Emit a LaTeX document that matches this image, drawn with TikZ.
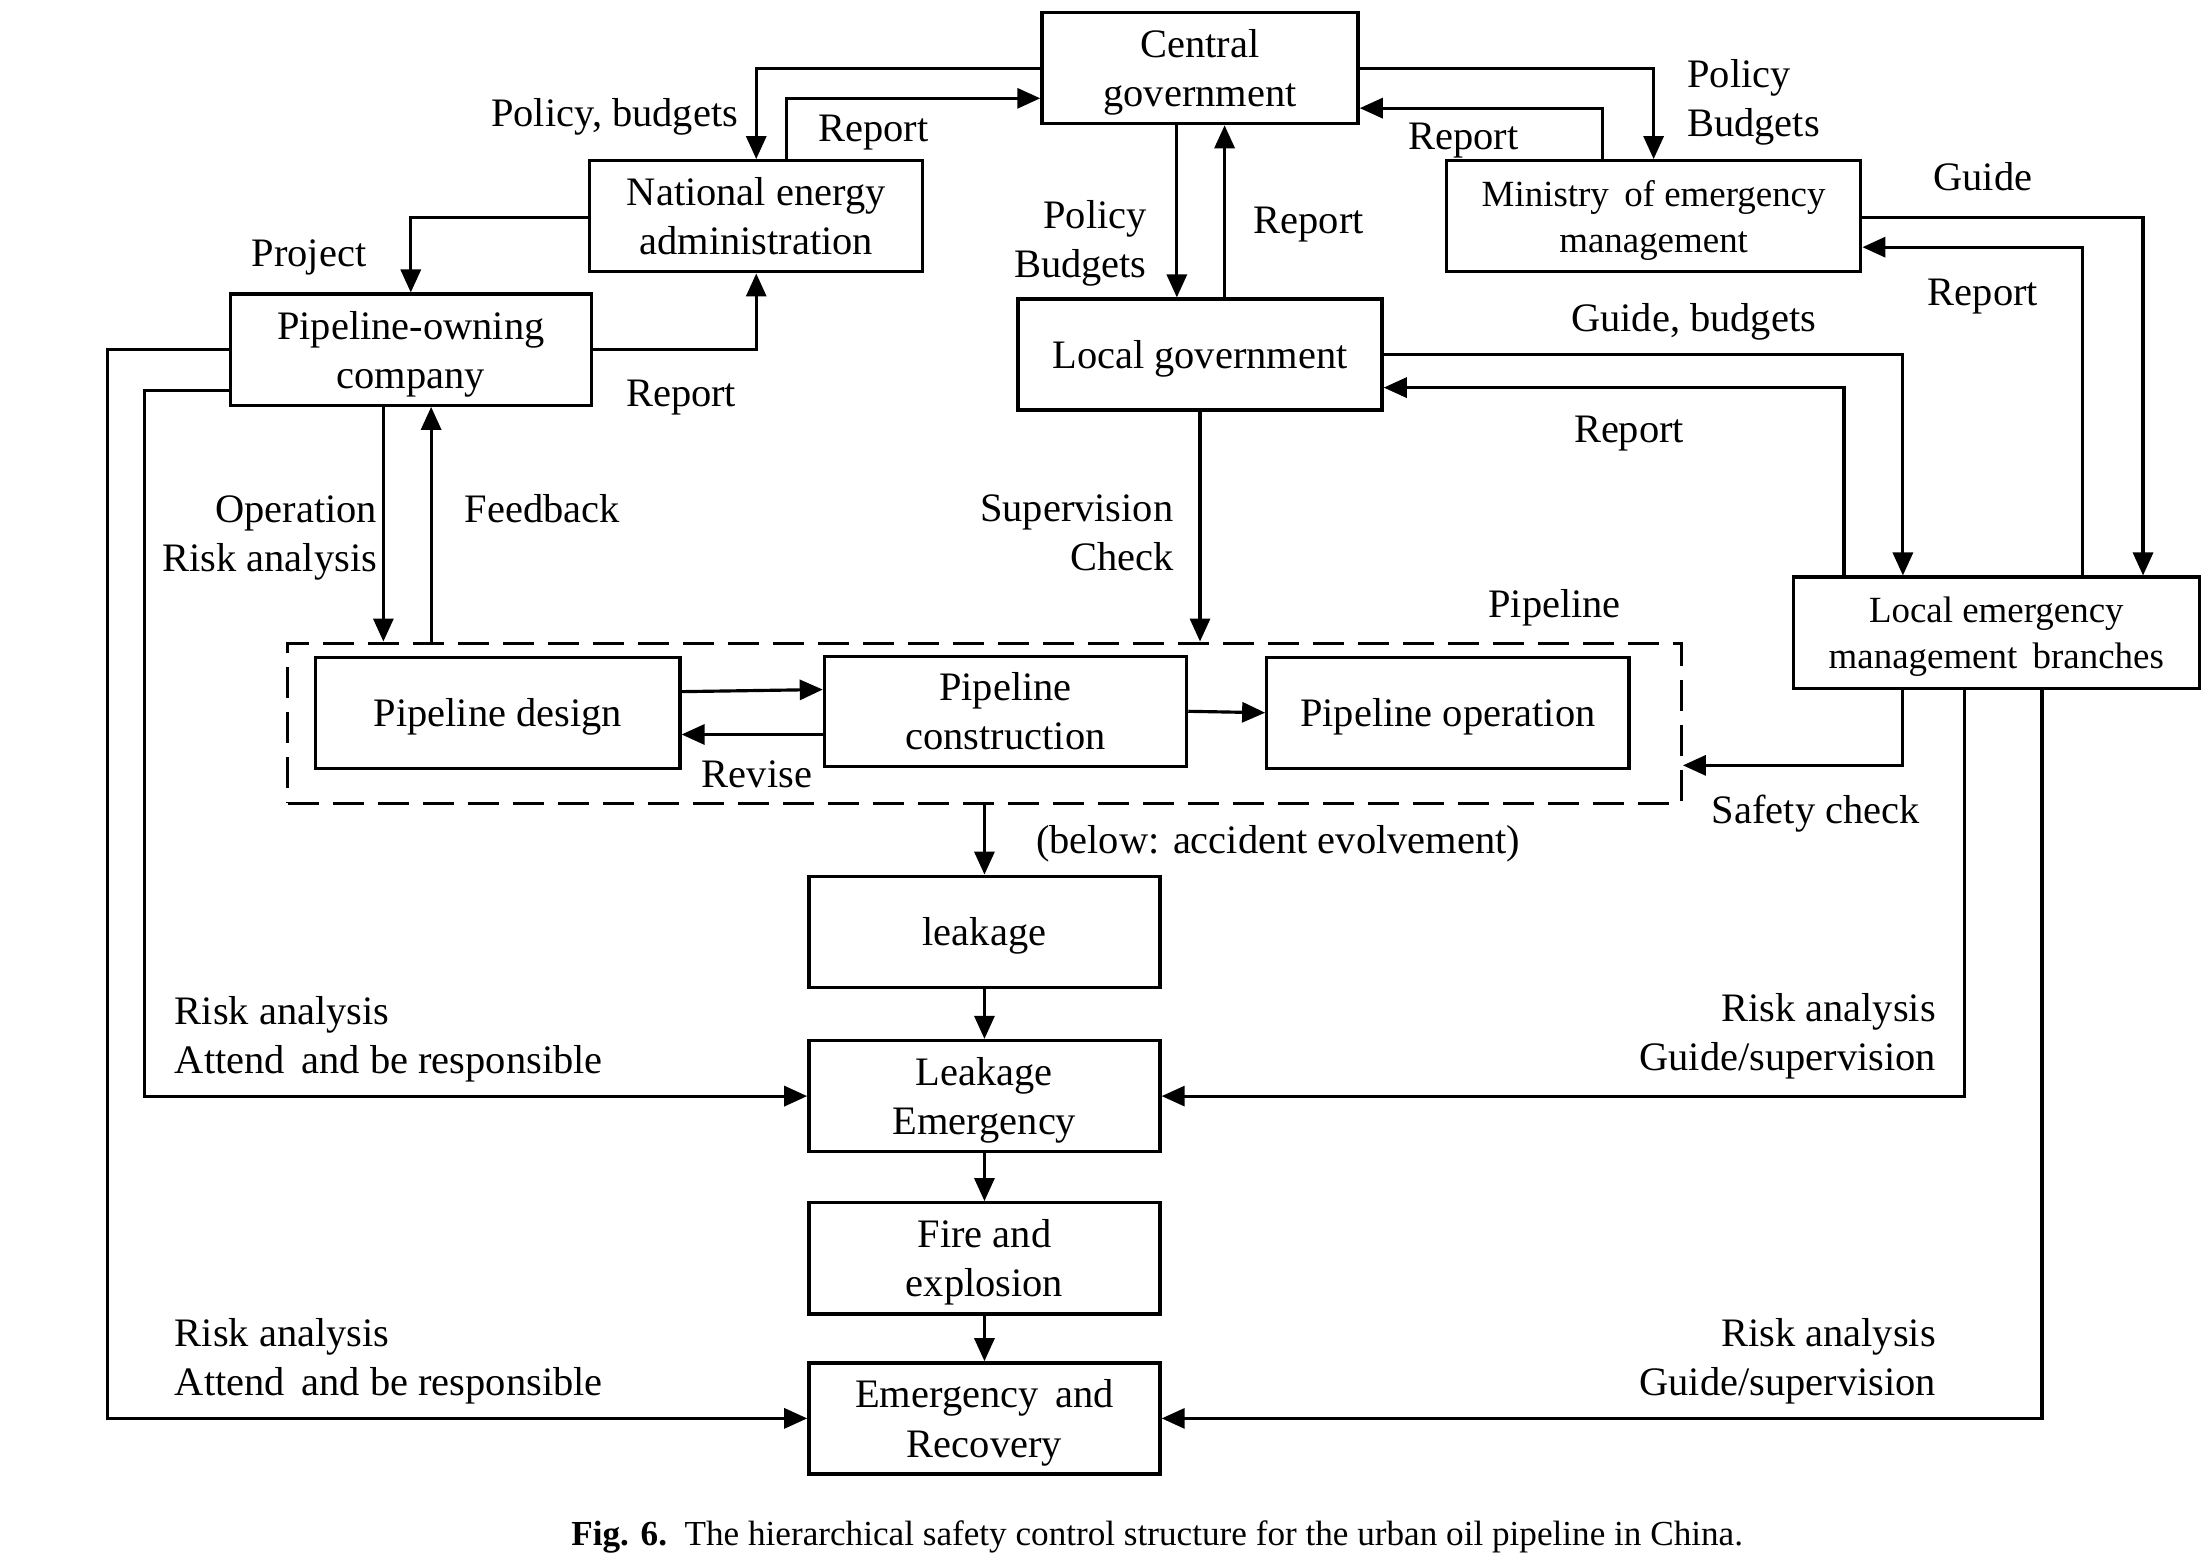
\documentclass[tikz,border=0pt]{standalone}
\usepackage{fontspec}
\setmainfont{Liberation Serif}
\usepackage{tikz}
\usetikzlibrary{arrows,arrows.meta,positioning,calc}
\tikzstyle{block}=[draw,line width=0.95pt,align=center,inner sep=2pt,minimum height=1.11cm,text depth=-0.8pt]
\tikzstyle{lbl}=[inner sep=0pt,align=center,text depth=0pt]
\tikzstyle{arr}=[line width=0.9pt,-{Triangle[length=2.3mm,width=2mm]}]

\begin{document}
\begin{tikzpicture}[x=0.01404cm,y=-0.01404cm,font=\fontsize{11.5}{14}\selectfont]
\useasboundingbox (0,0) rectangle (1568,1112);
% top level
\node [block,minimum width=3.16cm] (central) at (854.5,48.5) {Central\\government};
\node [block,minimum width=3.33cm] (nea) at (538.5,154) {National energy\\administration};
\node [block,minimum width=4.14cm,font=\fontsize{10.5}{13}\selectfont] (ministry) at (1177.5,154) {Ministry\, of emergency\\management};
\node [block,minimum width=3.61cm] (owner) at (292.5,249) {Pipeline-owning\\company};
\node [block,minimum width=3.64cm] (localgov) at (854.5,252.5) {Local government};
\node [block,minimum width=4.06cm,font=\fontsize{10.5}{13}\selectfont] (localem) at (1421.5,450.5) {Local emergency\\management\, branches};
% pipeline
\node [draw,line width=0.95pt,dash pattern=on 3.1mm off 1.4mm,minimum width=13.93cm,minimum height=1.6cm] (pipebox) at (701,515) {};
\node [block,minimum width=3.64cm] (design) at (354.5,507.5) {Pipeline design};
\node [block,minimum width=3.62cm,minimum height=1.1cm] (construct) at (716,506.5) {Pipeline\\construction};
\node [block,minimum width=3.62cm] (operation) at (1031,507.5) {Pipeline operation};
% accident evolvement
\node [block,minimum width=3.51cm] (leak) at (701,663.5) {leakage};
\node [block,minimum width=3.51cm] (leakem) at (701,780.5) {Leakage\\Emergency};
\node [block,minimum width=3.51cm] (fire) at (701,896) {Fire and\\explosion};
\node [block,minimum width=3.51cm] (recover) at (701,1010) {Emergency\, and\\Recovery};

\draw [arr] (central.west) -| (nea.north);
\draw [arr] ($(nea.north)+(21.5,0)$) |- ($(central.west)+(0,21.5)$);
\draw [arr] (central.east) -| (ministry.north);
\draw [arr] ($(ministry.north)+(-36.5,0)$) |- ($(central.east)+(0,28.5)$);
\draw [arr] ($(central.south)+(-16.5,0)$) -- ($(localgov.north)+(-16.5,0)$);
\draw [arr] ($(localgov.north)+(17.5,0)$) -- ($(central.south)+(17.5,0)$);
\draw [arr] ($(nea.west)+(0,1)$) -| (owner.north);
\draw [arr] (owner.east) -| (nea.south);
\draw [arr] ($(ministry.east)+(0,1)$) -| ($(localem.north)+(104.5,0)$);
\draw [arr] ($(localem.north)+(61.5,0)$) |- ($(ministry.east)+(0,22)$);
\draw [arr] (localgov.east) -| ($(localem.north)+(-66.5,0)$);
\draw [arr] ($(localem.north)+(-108.5,0)$) |- ($(localgov.east)+(0,23.5)$);
\draw [arr] (localgov.south) -- (localgov.south |- pipebox.north);
\coordinate (op) at ($(owner.south)+(-19.5,0)$);
\coordinate (fb) at ($(owner.south)+(14.5,0)$);
\draw [arr] (op) -- (op |- pipebox.north);
\draw [arr] (fb |- pipebox.north) -- (fb);
\draw [arr] ($(design.east)+(0,-15)$) -- ($(construct.west)+(0,-15.5)$);
\draw [arr] ($(construct.west)+(0,16.5)$) -- ($(design.east)+(0,15.5)$);
\draw [arr] (construct.east) -- (operation.west);
\draw [arr] ($(localem.south)+(-66.5,0)$) |- ($(pipebox.east)+(0,30)$);
\draw [arr] (pipebox.south) -- (leak.north);
\draw [arr] (leak) -- (leakem);
\draw [arr] (leakem) -- (fire);
\draw [arr] (fire) -- (recover);
\draw [arr] ($(owner.west)+(0,29)$) -- ++(-60,0) |- (leakem.west);
\draw [arr] (owner.west) -- ++(-86,0) |- (recover.west);
\draw [arr] ($(localem.south)+(-22.5,0)$) |- (leakem.east);
\draw [arr] ($(localem.south)+(32.5,0)$) |- (recover.east);

% labels
\node [lbl,anchor=east] (l1) at (526,80) {Policy, budgets};
\node [lbl] (l2) at (622,91) {Report};
\node [lbl,anchor=west,align=left] (l3) at (1201,70) {Policy\\Budgets};
\node [lbl] (l4) at (1042,97) {Report};
\node [lbl,anchor=east,align=right] (l5) at (817,170) {Policy\\Budgets};
\node [lbl] (l6) at (932,157) {Report};
\node [lbl] (l7) at (220,180) {Project};
\node [lbl] (l8) at (485,280) {Report};
\node [lbl] (l9) at (1412,126) {Guide};
\node [lbl] (l10) at (1412,208) {Report};
\node [lbl] (l11) at (1206,226) {Guide, budgets};
\node [lbl] (l12) at (1160,306) {Report};
\node [lbl,anchor=east,align=right] (l13) at (836,379) {Supervision\\Check};
\node [lbl,anchor=east,align=right] (l14) at (269,380) {Operation\\Risk analysis};
\node [lbl] (l15) at (386,362) {Feedback};
\node [lbl] (l16) at (1107,430) {Pipeline};
\node [lbl] (l17) at (539,551) {Revise};
\node [lbl] (l18) at (1293,576) {Safety check};
\node [lbl] (l19) at (910,598) {(below: accident evolvement)};
\node [lbl,anchor=west,align=left] (l20) at (124,737) {Risk analysis\\Attend\, and be responsible};
\node [lbl,anchor=west,align=left] (l21) at (124,966) {Risk analysis\\Attend\, and be responsible};
\node [lbl,anchor=east,align=right] (l22) at (1379,735) {Risk analysis\\Guide/supervision};
\node [lbl,anchor=east,align=right] (l23) at (1379,966) {Risk analysis\\Guide/supervision};
\node [lbl,font=\fontsize{10}{12}\selectfont] (cap) at (824,1092) {\textbf{Fig. 6.}\enspace The hierarchical safety control structure for the urban oil pipeline in China.};
\end{tikzpicture}
\end{document}
